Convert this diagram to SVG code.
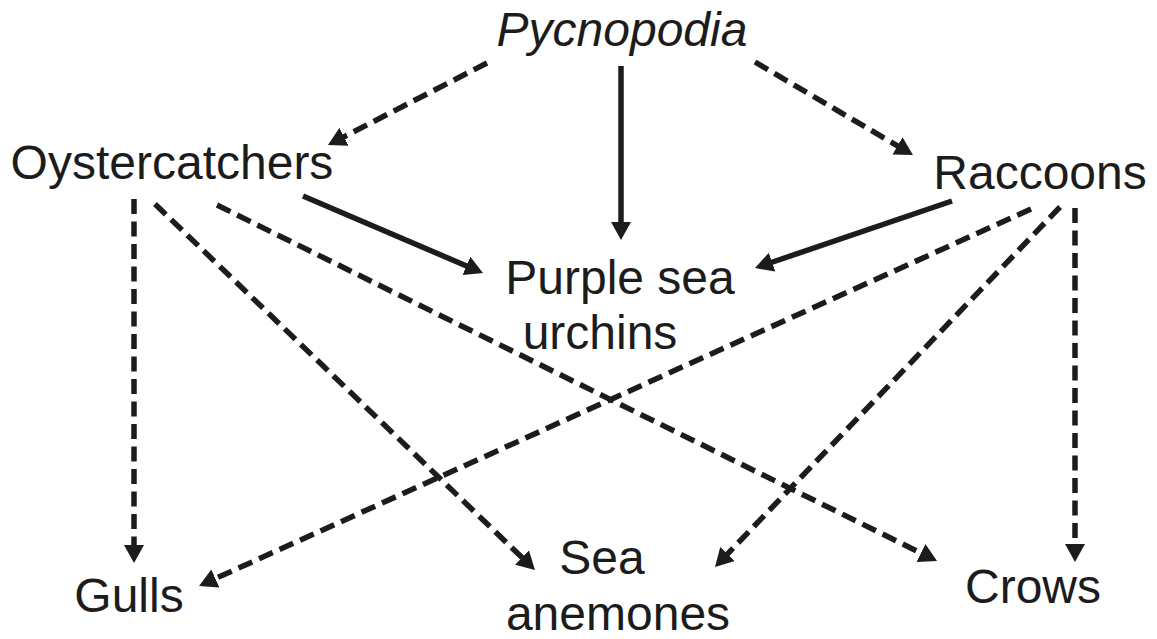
<svg xmlns="http://www.w3.org/2000/svg" width="1157" height="639" viewBox="0 0 1157 639">
<style>
text{font-family:"Liberation Sans",Arial,sans-serif;font-size:48px;fill:#1c1c1c;text-anchor:middle}
.it{font-style:italic}
.c line{stroke:#1c1c1c;stroke-width:5.5;marker-end:url(#ah)}
.c .d{stroke-dasharray:15 7.5}
</style>
<defs>
<marker id="ah" markerUnits="userSpaceOnUse" viewBox="0 -10 18 20" markerWidth="18" markerHeight="20" refX="4" refY="0" orient="auto">
<path d="M0,-10 L18,0 L0,10 z" fill="#1c1c1c"/>
</marker>
</defs>
<rect width="1157" height="639" fill="#fff"/>
<g id="connectors" class="c">
<line class="d" x1="487" y1="63" x2="340.4" y2="138.6"/>
<line x1="621" y1="66" x2="621" y2="226"/>
<line class="d" x1="755" y1="62" x2="900.9" y2="147.9"/>
<line x1="303" y1="196" x2="470.1" y2="267.5"/>
<line x1="952" y1="201" x2="768.3" y2="263.5"/>
<line class="d" x1="134" y1="199" x2="134" y2="549"/>
<line class="d" x1="155" y1="204" x2="524.9" y2="560.3"/>
<line class="d" x1="217" y1="205" x2="924.5" y2="554.8"/>
<line class="d" x1="1031" y1="209" x2="211.8" y2="580.2"/>
<line class="d" x1="1060" y1="207" x2="724.7" y2="556.9"/>
<line class="d" x1="1075" y1="208" x2="1075" y2="548"/>
</g>
<g id="pycnopodia"><text class="it" x="622" y="46">Pycnopodia</text></g>
<g id="oystercatchers"><text x="172" y="179">Oystercatchers</text></g>
<g id="raccoons"><text x="1040" y="189">Raccoons</text></g>
<g id="urchins"><text x="620" y="294">Purple sea</text><text x="600" y="349">urchins</text></g>
<g id="gulls"><text x="129" y="612">Gulls</text></g>
<g id="anemones"><text x="602" y="574">Sea</text><text x="618" y="630">anemones</text></g>
<g id="crows"><text x="1033" y="603">Crows</text></g>
</svg>
